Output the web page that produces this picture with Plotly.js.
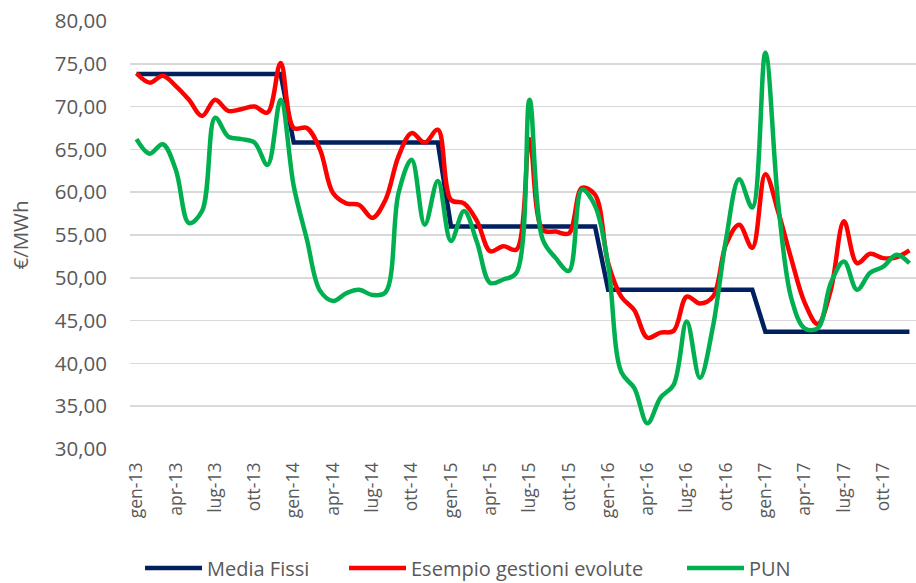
<!DOCTYPE html>
<html>
<head>
<meta charset="utf-8">
<script src="https://cdn.plot.ly/plotly-3.0.1.min.js"></script>
<style>html,body{margin:0;padding:0;background:#fff;}#chart{width:916px;height:583px;}</style>
</head>
<body>
<div id="chart"></div>
<script>
const months = [
  'gen-13','feb-13','mar-13','apr-13','mag-13','giu-13','lug-13','ago-13','set-13','ott-13','nov-13','dic-13',
  'gen-14','feb-14','mar-14','apr-14','mag-14','giu-14','lug-14','ago-14','set-14','ott-14','nov-14','dic-14',
  'gen-15','feb-15','mar-15','apr-15','mag-15','giu-15','lug-15','ago-15','set-15','ott-15','nov-15','dic-15',
  'gen-16','feb-16','mar-16','apr-16','mag-16','giu-16','lug-16','ago-16','set-16','ott-16','nov-16','dic-16',
  'gen-17','feb-17','mar-17','apr-17','mag-17','giu-17','lug-17','ago-17','set-17','ott-17','nov-17','dic-17'
];
const mediaFissi = [
  73.8,73.8,73.8,73.8,73.8,73.8,73.8,73.8,73.8,73.8,73.8,73.8,
  65.8,65.8,65.8,65.8,65.8,65.8,65.8,65.8,65.8,65.8,65.8,65.8,
  56.0,56.0,56.0,56.0,56.0,56.0,56.0,56.0,56.0,56.0,56.0,56.0,
  48.6,48.6,48.6,48.6,48.6,48.6,48.6,48.6,48.6,48.6,48.6,48.6,
  43.7,43.7,43.7,43.7,43.7,43.7,43.7,43.7,43.7,43.7,43.7,43.7
];
const gestioniEvolute = [
  73.9,72.8,73.6,72.4,70.8,68.9,70.8,69.5,69.7,70.0,69.3,75.1,
  67.5,67.5,65.0,59.9,58.7,58.5,57.0,59.1,64.2,66.9,65.8,67.3,
  59.1,58.7,56.6,53.1,53.7,53.3,66.2,55.6,55.4,55.2,60.5,59.7,
  51.7,47.8,46.2,43.0,43.6,43.8,47.8,47.0,47.8,53.9,56.2,53.5,
  62.1,57.6,52.1,47.1,44.6,48.6,56.6,51.7,52.8,52.3,52.4,53.2
];
const pun = [
  66.2,64.5,65.6,62.6,56.4,57.8,68.7,66.5,66.2,65.8,63.2,70.8,
  60.7,54.5,48.5,47.3,48.2,48.6,48.0,48.3,59.9,63.8,56.2,61.3,
  54.3,57.8,54.1,49.4,49.8,50.6,70.8,54.5,52.3,50.8,60.3,58.4,
  51.5,39.0,37.1,33.0,36.0,37.5,44.9,38.3,44.3,54.5,61.5,58.2,
  76.3,58.4,47.5,44.1,44.1,49.4,51.9,48.6,50.6,51.3,52.7,51.7
];
const seriesNames = ['Media Fissi','Esempio gestioni evolute','PUN'];
const yTicks = [30,35,40,45,50,55,60,65,70,75,80];
const xTickLabels = months.filter((m, i) => i % 3 === 0);

const FONT = 'Open Sans, Liberation Sans, sans-serif';
const GREY = '#595959';
const traces = [
  {x: months, y: mediaFissi, name: seriesNames[0], type: 'scatter', mode: 'lines', legend: 'legend',
   line: {color: '#002060', width: 4.5, shape: 'linear'}},
  {x: months, y: gestioniEvolute, name: seriesNames[1], type: 'scatter', mode: 'lines', legend: 'legend2',
   line: {color: '#FF0000', width: 4.5, shape: 'spline', smoothing: 1}},
  {x: months, y: pun, name: seriesNames[2], type: 'scatter', mode: 'lines', legend: 'legend3',
   line: {color: '#00B050', width: 4.5, shape: 'spline', smoothing: 1}}
];
function leg(xpx) {
  return {orientation: 'h', xref: 'container', yref: 'container', x: xpx / 916, xanchor: 'left',
          y: 15 / 583, yanchor: 'middle', font: {family: FONT, size: 20, color: GREY},
          itemwidth: 57, bgcolor: 'rgba(0,0,0,0)', borderwidth: 0};
}
const layout = {
  width: 916, height: 583,
  margin: {l: 130, r: 0, t: 21, b: 134, pad: 0},
  paper_bgcolor: '#ffffff', plot_bgcolor: '#ffffff',
  separators: ',.',
  font: {family: FONT, size: 18, color: GREY},
  showlegend: true,
  legend: leg(140), legend2: leg(344), legend3: leg(682),
  xaxis: {type: 'category', range: [-0.5, 59.5], tickmode: 'array', tickvals: xTickLabels, ticktext: xTickLabels,
          tickangle: -90, showgrid: false, zeroline: false, showline: false, ticks: '',
          ticklabelstandoff: 9,
          tickfont: {family: FONT, size: 17.5, color: GREY}, fixedrange: true},
  yaxis: {range: [30, 80], tickmode: 'array', tickvals: yTicks, tickformat: '.2f',
          showgrid: true, gridcolor: '#d9d9d9', gridwidth: 1.5, zeroline: false, showline: false, ticks: '',
          ticklabelstandoff: 22,
          tickfont: {family: FONT, size: 20.5, color: GREY},
          title: {text: '€/MWh', font: {family: FONT, size: 20.5, color: GREY}, standoff: 20}}
};
Plotly.newPlot('chart', traces, layout, {displayModeBar: false, staticPlot: true});
</script>
</body>
</html>
